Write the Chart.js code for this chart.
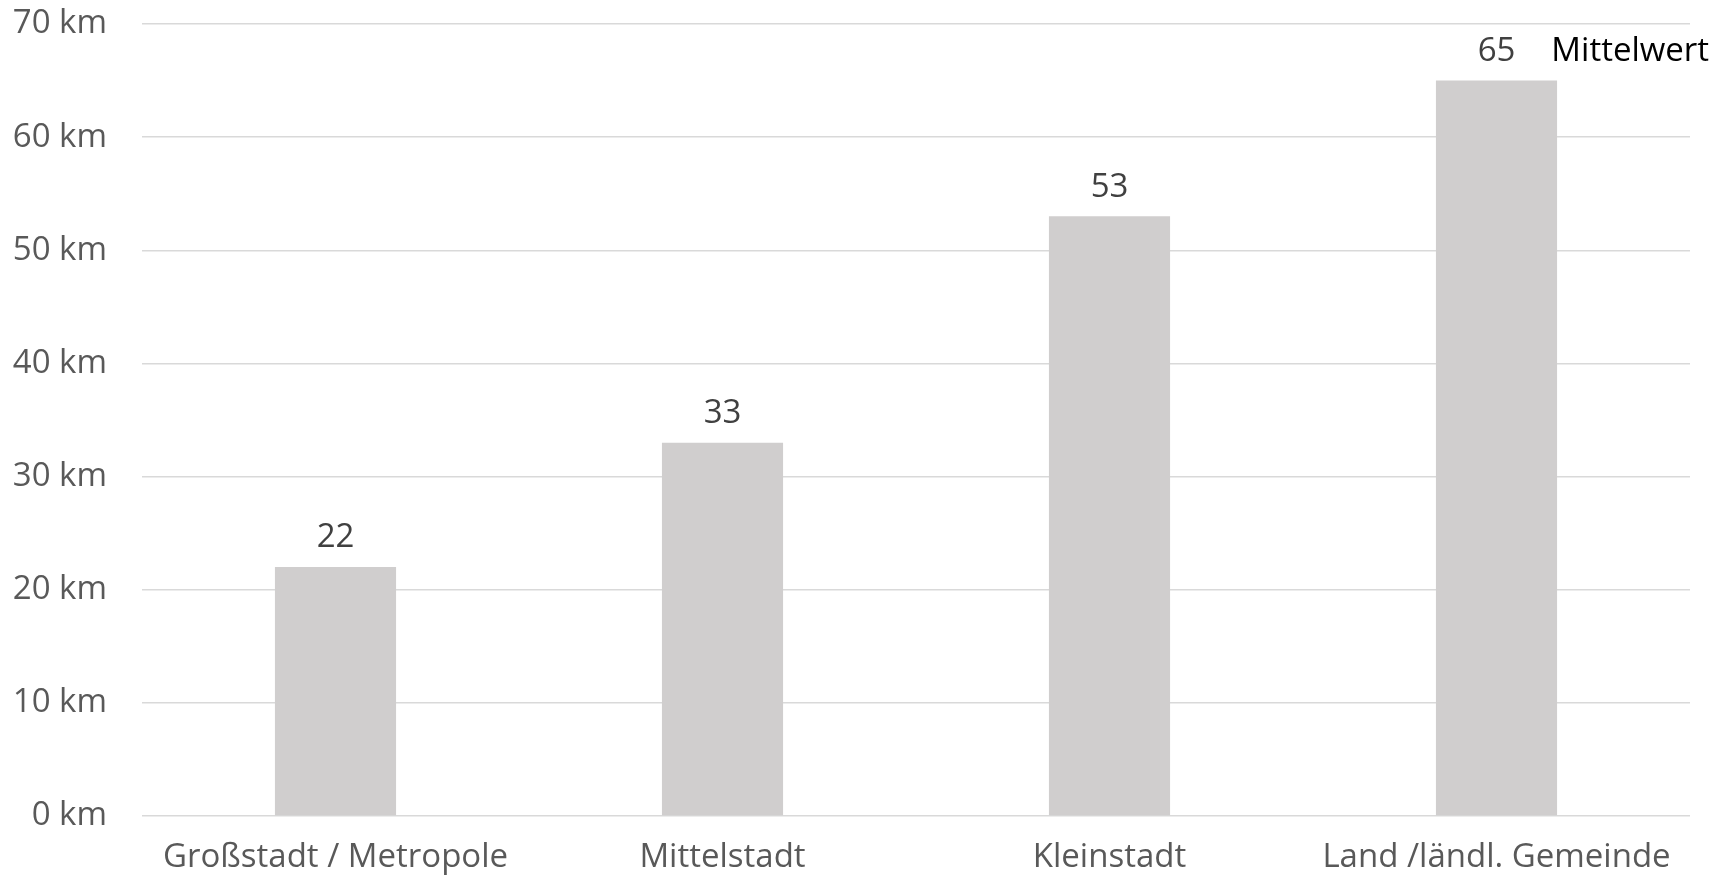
<!DOCTYPE html>
<html>
<head>
<meta charset="utf-8">
<script src="https://cdn.jsdelivr.net/npm/chart.js@4"></script>
<style>
  html, body { margin: 0; padding: 0; background: #fff; }
  #wrap { width: 1713px; height: 883px; }
</style>
</head>
<body>
<div id="wrap"><canvas id="distanceChart"></canvas></div>
<script>
// Data
const categories = ['Großstadt / Metropole', 'Mittelstadt', 'Kleinstadt', 'Land /ländl. Gemeinde'];
const meanKm = [22, 33, 53, 65];
const seriesName = 'Mittelwert';
const yTicks = [0, 10, 20, 30, 40, 50, 60, 70];

const fontFamily = '"Open Sans", "Noto Sans", sans-serif';
const fontSize = 33;

// Value labels above the bars, plus the series name next to the last one
const valueLabels = {
    id: 'valueLabels',
    afterDatasetsDraw(chart) {
        const ctx = chart.ctx;
        const bars = chart.getDatasetMeta(0).data;
        ctx.save();
        ctx.font = fontSize + 'px ' + fontFamily;
        ctx.textBaseline = 'middle';
        bars.forEach((bar, i) => {
            const text = String(meanKm[i]);
            const y = bar.y - 29;
            ctx.fillStyle = '#404040';
            ctx.textAlign = 'center';
            ctx.fillText(text, bar.x, y);
            if (i === bars.length - 1) {
                const w = ctx.measureText(text).width;
                ctx.fillStyle = '#000000';
                ctx.textAlign = 'left';
                ctx.fillText(seriesName, bar.x + w / 2 + 36, y);
            }
        });
        ctx.restore();
    }
};

new Chart(document.getElementById('distanceChart').getContext('2d'), {
    type: 'bar',
    data: {
        labels: categories,
        datasets: [{
            label: seriesName,
            data: meanKm,
            backgroundColor: '#d0cece',
            categoryPercentage: 1,
            barPercentage: 0.313
        }]
    },
    options: {
        responsive: true,
        maintainAspectRatio: false,
        animation: false,
        layout: { padding: { top: 24, right: 23, left: 0, bottom: 0 } },
        plugins: {
            legend: { display: false },
            tooltip: { enabled: false }
        },
        scales: {
            x: {
                grid: { display: false, drawTicks: false },
                border: { display: false },
                ticks: {
                    color: '#595959',
                    font: { family: fontFamily, size: fontSize },
                    padding: 22,
                    maxRotation: 0,
                    autoSkip: false
                },
                afterFit(scale) { scale.height = 67; }
            },
            y: {
                min: 0,
                max: 70,
                afterBuildTicks(scale) { scale.ticks = yTicks.map(v => ({ value: v })); },
                grid: { color: '#d9d9d9', lineWidth: 1.5, drawTicks: false },
                border: { display: false },
                ticks: {
                    color: '#595959',
                    font: { family: fontFamily, size: fontSize },
                    padding: 35,
                    callback: value => value + ' km'
                },
                afterFit(scale) {
                    scale.width = 142;
                    scale.paddingTop = 0;
                    scale.paddingBottom = 0;
                }
            }
        }
    },
    plugins: [valueLabels]
});
</script>
</body>
</html>
